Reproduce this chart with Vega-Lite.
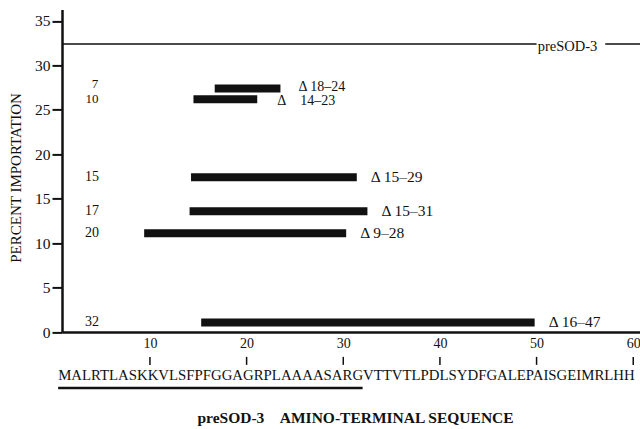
{
  "$schema": "https://vega.github.io/schema/vega-lite/v6.json",
  "width": 578,
  "height": 322.6,
  "autosize": {"type": "none"},
  "padding": {"left": 62, "top": 9.4, "right": 0, "bottom": 97},
  "background": "white",
  "config": {"view": {"stroke": null}, "font": "Liberation Serif"},
  "datasets": {
    "bars": [
      {"n": "7", "label": "Δ 18–24", "start": 16.7, "end": 23.5, "pct": 27.4},
      {"n": "10", "label": "Δ\u00a0\u00a0\u00a0\u00a014–23", "start": 14.5, "end": 21.1, "pct": 26.2},
      {"n": "15", "label": "Δ 15–29", "start": 14.25, "end": 31.4, "pct": 17.4},
      {"n": "17", "label": "Δ 15–31", "start": 14.1, "end": 32.5, "pct": 13.6},
      {"n": "20", "label": "Δ 9–28", "start": 9.4, "end": 30.3, "pct": 11.1},
      {"n": "32", "label": "Δ 16–47", "start": 15.3, "end": 49.8, "pct": 1.07}
    ],
    "ref": [{"name": "preSOD-3", "pct": 32.4}],
    "marks": [{"residue": 10}, {"residue": 20}, {"residue": 30}, {"residue": 40}, {"residue": 50}, {"residue": 60}],
    "seq": [{"seq": "MALRTLASKKVLSFPFGGAGRPLAAAASARGVTTVTLPDLSYDFGALEPAISGEIMRLHH"}]
  },
  "layer": [
    {
      "data": {"name": "bars"},
      "mark": {"type": "rule", "strokeWidth": 8, "strokeCap": "butt", "color": "#111"},
      "encoding": {
        "x": {
          "field": "start", "type": "quantitative",
          "scale": {"domain": [0.9, 60.7], "nice": false, "zero": false},
          "axis": {
            "values": [10, 20, 30, 40, 50, 60],
            "ticks": false, "grid": false,
            "domainWidth": 2.5, "domainColor": "#111",
            "labelFontSize": 14, "labelColor": "#111", "labelPadding": 4,
            "title": "preSOD-3\u00a0\u00a0\u00a0\u00a0AMINO-TERMINAL SEQUENCE",
            "titleFontWeight": "bold", "titleFontSize": 15.5, "titleColor": "#111",
            "titleX": 293, "titleY": 85, "titleAlign": "center", "titleBaseline": "middle"
          }
        },
        "x2": {"field": "end"},
        "y": {
          "field": "pct", "type": "quantitative",
          "scale": {"domain": [0, 36.3], "nice": false, "zero": false},
          "axis": {
            "values": [0, 5, 10, 15, 20, 25, 30, 35],
            "tickSize": 10, "tickWidth": 2, "tickColor": "#111",
            "domainWidth": 2.5, "domainColor": "#111", "grid": false,
            "labelFontSize": 15.5, "labelColor": "#111", "labelPadding": 2,
            "title": "PERCENT IMPORTATION",
            "titleFontSize": 15, "titleFontWeight": "normal", "titleColor": "#111",
            "titleX": -47, "titleY": 168, "titleAngle": -90,
            "titleAlign": "center", "titleBaseline": "middle"
          }
        }
      }
    },
    {
      "data": {"name": "bars"},
      "transform": [{"filter": "datum.n != '7' && datum.n != '10'"}],
      "mark": {"type": "text", "fontSize": 14, "align": "center", "baseline": "middle", "color": "#111"},
      "encoding": {
        "x": {"datum": 4.0, "type": "quantitative"},
        "y": {"field": "pct", "type": "quantitative"},
        "text": {"field": "n"}
      }
    },
    {
      "data": {"name": "bars"},
      "transform": [{"filter": "datum.n == '7'"}],
      "mark": {"type": "text", "fontSize": 13, "align": "center", "baseline": "middle", "dx": 3, "dy": -4, "color": "#111"},
      "encoding": {
        "x": {"datum": 4.0, "type": "quantitative"},
        "y": {"field": "pct", "type": "quantitative"},
        "text": {"field": "n"}
      }
    },
    {
      "data": {"name": "bars"},
      "transform": [{"filter": "datum.n == '10'"}],
      "mark": {"type": "text", "fontSize": 13, "align": "center", "baseline": "middle", "dy": 0, "color": "#111"},
      "encoding": {
        "x": {"datum": 4.0, "type": "quantitative"},
        "y": {"field": "pct", "type": "quantitative"},
        "text": {"field": "n"}
      }
    },
    {
      "data": {"name": "bars"},
      "transform": [{"filter": "datum.n != '7' && datum.n != '10'"}],
      "mark": {"type": "text", "fontSize": 15.5, "align": "left", "baseline": "middle", "dx": 14, "color": "#111"},
      "encoding": {
        "x": {"field": "end", "type": "quantitative"},
        "y": {"field": "pct", "type": "quantitative"},
        "text": {"field": "label"}
      }
    },
    {
      "data": {"name": "bars"},
      "transform": [{"filter": "datum.n == '7'"}],
      "mark": {"type": "text", "fontSize": 14, "align": "left", "baseline": "middle", "dx": 18, "dy": -1, "color": "#111"},
      "encoding": {
        "x": {"field": "end", "type": "quantitative"},
        "y": {"field": "pct", "type": "quantitative"},
        "text": {"field": "label"}
      }
    },
    {
      "data": {"name": "bars"},
      "transform": [{"filter": "datum.n == '10'"}],
      "mark": {"type": "text", "fontSize": 14, "align": "left", "baseline": "middle", "dx": 20, "dy": 2, "color": "#111"},
      "encoding": {
        "x": {"field": "end", "type": "quantitative"},
        "y": {"field": "pct", "type": "quantitative"},
        "text": {"field": "label"}
      }
    },
    {
      "data": {"name": "ref"},
      "mark": {"type": "rule", "strokeWidth": 1.6, "color": "#111"},
      "encoding": {
        "x": {"datum": 0.9, "type": "quantitative"},
        "x2": {"datum": 50.0},
        "y": {"field": "pct", "type": "quantitative"}
      }
    },
    {
      "data": {"name": "ref"},
      "mark": {"type": "rule", "strokeWidth": 1.6, "color": "#111"},
      "encoding": {
        "x": {"datum": 57.1, "type": "quantitative"},
        "x2": {"datum": 60.7},
        "y": {"field": "pct", "type": "quantitative"}
      }
    },
    {
      "data": {"name": "ref"},
      "mark": {"type": "text", "fontSize": 14.5, "align": "center", "baseline": "middle", "dy": 3, "color": "#111"},
      "encoding": {
        "x": {"datum": 53.2, "type": "quantitative"},
        "y": {"field": "pct", "type": "quantitative"},
        "text": {"field": "name"}
      }
    },
    {
      "data": {"name": "marks"},
      "mark": {"type": "rule", "strokeWidth": 1.5, "color": "#111"},
      "encoding": {
        "x": {"field": "residue", "type": "quantitative"},
        "y": {"datum": -2.8, "type": "quantitative"},
        "y2": {"datum": -3.7}
      }
    },
    {
      "data": {"name": "seq"},
      "mark": {"type": "text", "fontSize": 14.8, "align": "left", "baseline": "middle", "color": "#111"},
      "encoding": {
        "x": {"datum": 0.5, "type": "quantitative"},
        "y": {"datum": -4.95, "type": "quantitative"},
        "text": {"field": "seq"}
      }
    },
    {
      "data": {"name": "seq"},
      "mark": {"type": "rule", "strokeWidth": 2.5, "color": "#111"},
      "encoding": {
        "x": {"datum": 0.5, "type": "quantitative"},
        "x2": {"datum": 32.0},
        "y": {"datum": -6.3, "type": "quantitative"}
      }
    }
  ]
}
